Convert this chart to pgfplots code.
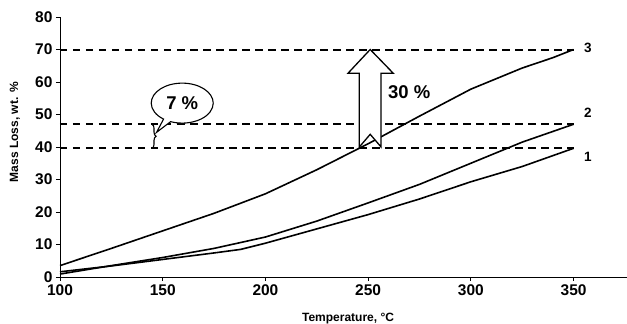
\documentclass[border=0pt]{standalone}
\usepackage{fontspec}
\setmainfont{Liberation Sans}
\usepackage{pgfplots}
\pgfplotsset{compat=1.18}
\usetikzlibrary{shapes.callouts,decorations.pathreplacing}

\begin{document}
\begin{tikzpicture}
\useasboundingbox (0,0) rectangle (627pt,324pt);
\begin{axis}[
 at={(60pt,47pt)}, anchor=south west, scale only axis, width=567pt, height=260pt,
 xmin=100, xmax=376, ymin=0, ymax=80,
 axis x line=bottom, axis y line=left, axis line style={-, line width=0.9pt},
 xtick={100,150,...,350}, ytick={0,10,...,80},
 tick align=outside, major tick length=4pt, tick style={line width=0.9pt, black},
 /pgf/number format/assume math mode=true,
 tick label style={font=\fontsize{15.5}{17}\selectfont\bfseries},
 xlabel={Temperature, °C}, ylabel={Mass Loss, wt. \%},
 label style={font=\fontsize{12}{14}\selectfont\bfseries},
 xlabel style={at={(rel axis cs:0.508,-0.1615)}, anchor=center},
 ylabel style={at={(rel axis cs:-0.0794,0.557)}, anchor=center},
 clip=false,
]
% curve 3
\addplot[black, line width=1.6pt] coordinates {
(100,3.5) (125,8.8) (150,14.2) (175,19.6) (200,25.6) (225,33) (250,41) (275,49.5) (300,57.8) (325,64.3) (340,67.5) (350,70)};
% curve 2
\addplot[black, line width=1.6pt] coordinates {
(100,0.9) (125,3.5) (150,6.0) (175,8.8) (200,12.3) (225,17.2) (250,22.8) (275,28.5) (300,35) (325,41.5) (350,47)};
% curve 1
\addplot[black, line width=1.6pt] coordinates {
(100,1.6) (125,3.4) (150,5.4) (175,7.4) (188,8.5) (200,10.4) (225,14.8) (250,19.2) (275,24) (300,29.3) (325,34) (350,39.6)};
% dashed reference lines
\addplot[black, line width=2pt, dash pattern=on 7.5pt off 5.5pt] coordinates {(100,69.85) (350,69.85)};
\addplot[black, line width=2pt, dash pattern=on 7.5pt off 5.5pt] coordinates {(100,47.08) (350,47.08)};
\addplot[black, line width=2pt, dash pattern=on 7.5pt off 5.5pt] coordinates {(100,39.69) (350,39.69)};
% block arrow
\draw[line width=1.3pt, fill=white] (axis cs:245.7,40) -- (axis cs:245.7,62.7) -- (axis cs:240.2,62.7) -- (axis cs:251,70) -- (axis cs:262.2,62.7) -- (axis cs:256.3,62.7) -- (axis cs:256.3,40) -- (axis cs:251,43.9) -- cycle;
\node[anchor=west, font=\fontsize{18.5}{20}\selectfont\bfseries] at (axis cs:258,57) {30 \%};
% brace and callout
\draw[line width=1.1pt, decorate, decoration={brace, amplitude=4pt}] (axis cs:144.8,47) -- (axis cs:144.8,39.6);
\node[ellipse callout, draw, line width=1.1pt, fill=white, minimum width=62pt, minimum height=40pt, inner sep=0pt, callout absolute pointer={(axis cs:147,44.5)}, font=\fontsize{18.5}{20}\selectfont\bfseries] at (axis cs:159.5,53.5) {7 \%};
% curve labels
\node[font=\fontsize{13.5}{14}\selectfont\bfseries] at (axis cs:357,70.5) {3};
\node[font=\fontsize{13.5}{14}\selectfont\bfseries] at (axis cs:357,50.4) {2};
\node[font=\fontsize{13.5}{14}\selectfont\bfseries] at (axis cs:357,36.9) {1};
\end{axis}
\end{tikzpicture}
\end{document}
